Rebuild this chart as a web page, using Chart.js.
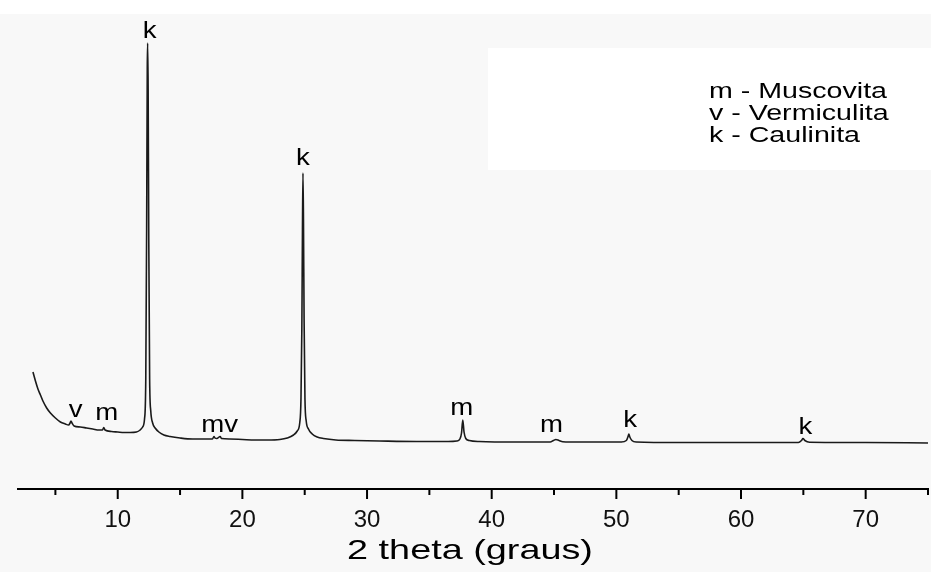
<!DOCTYPE html>
<html>
<head>
<meta charset="utf-8">
<script src="https://cdn.jsdelivr.net/npm/chart.js@4.4.1/dist/chart.umd.min.js"></script>
<style>
  html, body { margin: 0; padding: 0; background: #fff; }
  #wrap { width: 931px; height: 572px; }
</style>
</head>
<body>
<div id="wrap"><canvas id="xrdChart" width="931" height="572"></canvas></div>
<script>
// difratograma - valores (intensidade em unidades arbitrarias)
const twoTheta = [
  3.2, 3.4, 3.6, 3.8, 4.0, 4.3, 4.6, 5.0, 5.4, 5.8, 6.05, 6.18, 6.25, 6.33, 6.5,
  7.0, 7.5, 8.0, 8.5, 8.78, 8.88, 8.98, 9.5, 10.0, 10.5, 11.0, 11.5, 11.8, 12.0,
  12.15, 12.25, 12.32, 12.37, 12.40, 12.44, 12.49, 12.56, 12.65, 12.8, 13.0, 13.3,
  13.7, 14.2, 15.0, 16.0, 17.0, 17.6, 17.72, 17.8, 17.95, 18.22, 18.32, 19.0, 20.0,
  21.0, 22.0, 23.0, 23.6, 24.1, 24.4, 24.6, 24.7, 24.77, 24.82, 24.86, 24.9, 24.95,
  25.02, 25.12, 25.3, 25.6, 26.0, 26.5, 27.5, 29, 31, 34, 36.5, 37.2, 37.45, 37.58,
  37.68, 37.78, 37.92, 38.2, 39, 42, 44.7, 44.95, 45.15, 45.4, 45.7, 47, 50.4, 50.8,
  50.95, 51.0, 51.08, 51.25, 51.6, 55, 60, 64.6, 64.85, 64.97, 65.12, 65.5, 70, 75
];
const intensity = [
  117, 108, 100, 94, 88, 81, 76, 71, 67, 65, 64, 66, 68, 66, 63,
  62, 61, 60, 59, 59, 61.5, 59, 57.5, 57, 56.5, 56.5, 57, 59, 62,
  70, 110, 260, 420, 446, 400, 250, 110, 78, 66, 61, 57,
  54, 52.5, 51, 50, 50, 50, 52.5, 51, 50.5, 52.5, 50.5, 50, 49.5,
  49, 49, 49.5, 51, 54, 58, 66, 90, 160, 260, 316, 270, 170,
  90, 68, 60, 55, 52, 50.5, 49, 48.5, 48, 47.5, 47.5, 48, 50, 56,
  69, 57, 50.5, 48.5, 47.5, 47, 47, 48.5, 49.5, 48.5, 47.3, 47, 47, 48.5,
  53, 55, 52, 48.5, 47, 46.5, 46.5, 46.5, 48.5, 50.5, 48.5, 46.8, 46.5, 46
];

// identificacao dos picos
const peakLabels = ['k', 'k', 'v', 'm', 'mv', 'm', 'm', 'k', 'k'];
const peakLabelX = [12.57, 24.86, 6.63, 9.12, 18.18, 37.59, 44.8, 51.1, 65.17];
const peakLabelY = [458, 331, 79, 76, 64, 81, 64, 69, 62];

const legendLines = ['m - Muscovita', 'v - Vermiculita', 'k - Caulinita'];
const axisTitle = '2 theta (graus)';
const xMin = 2, xMax = 75, yMax = 489;

function stretchText(ctx, text, x, y, sx, align) {
  ctx.save();
  ctx.translate(x, y);
  ctx.scale(sx, 1);
  ctx.textAlign = align;
  ctx.fillText(text, 0, 0);
  ctx.restore();
}

const decorPlugin = {
  id: 'decor',
  beforeDraw(chart) {
    const ctx = chart.ctx;
    ctx.save();
    ctx.fillStyle = '#fff';
    ctx.fillRect(0, 0, chart.width, chart.height);
    ctx.fillStyle = '#f8f8f8';
    ctx.fillRect(0, 14, chart.width, chart.height - 14);
    // caixa branca da legenda
    ctx.fillStyle = '#fff';
    ctx.fillRect(488, 48, 443, 122);
    ctx.restore();
  },
  afterDraw(chart) {
    const ctx = chart.ctx;
    const x = chart.scales.x, y = chart.scales.y;
    const base = chart.chartArea.bottom;
    ctx.save();
    // marcas do eixo
    ctx.strokeStyle = '#000';
    ctx.lineWidth = 2;
    for (let v = 5; v <= xMax; v += 5) {
      const px = x.getPixelForValue(v);
      const len = v % 10 === 0 ? 10 : 6;
      ctx.beginPath();
      ctx.moveTo(px, base);
      ctx.lineTo(px, base + len);
      ctx.stroke();
    }
    ctx.fillStyle = '#000';
    ctx.textBaseline = 'middle';
    // letras dos picos
    ctx.font = '24px "Liberation Sans", Arial, sans-serif';
    peakLabels.forEach((t, i) => {
      stretchText(ctx, t, x.getPixelForValue(peakLabelX[i]), y.getPixelForValue(peakLabelY[i]), 1.15, 'center');
    });
    // legenda
    ctx.font = '22px "Liberation Sans", Arial, sans-serif';
    legendLines.forEach((t, i) => {
      stretchText(ctx, t, 709, 92 + i * 22, 1.3, 'left');
    });
    // titulo do eixo
    ctx.font = '28px "Liberation Sans", Arial, sans-serif';
    stretchText(ctx, axisTitle, 470, 551, 1.35, 'center');
    ctx.restore();
  }
};

const ctx = document.getElementById('xrdChart');
new Chart(ctx, {
  type: 'line',
  data: {
    labels: twoTheta,
    datasets: [{
      data: twoTheta.map((t, i) => ({ x: t, y: intensity[i] })),
      borderColor: '#1a1a1a',
      borderWidth: 1.6,
      pointRadius: 0,
      fill: false,
      cubicInterpolationMode: 'monotone'
    }]
  },
  options: {
    responsive: false,
    animation: false,
    layout: { autoPadding: false, padding: { left: 18, right: 3, top: 0, bottom: 0 } },
    plugins: { legend: { display: false }, tooltip: { enabled: false } },
    scales: {
      x: {
        type: 'linear',
        min: xMin,
        max: xMax,
        grid: { display: false, drawTicks: true, tickLength: 17 },
        border: { display: true, color: '#000', width: 2 },
        ticks: {
          stepSize: 5,
          includeBounds: false,
          autoSkip: false,
          maxRotation: 0,
          padding: 0,
          color: '#111',
          font: { family: '"Liberation Sans Narrow", "Liberation Sans", Arial', size: 24 },
          callback: v => (v % 10 === 0 ? String(v) : '')
        },
        afterFit: s => { s.height = 83; }
      },
      y: { display: false, min: 0, max: yMax }
    }
  },
  plugins: [decorPlugin]
});
</script>
</body>
</html>
